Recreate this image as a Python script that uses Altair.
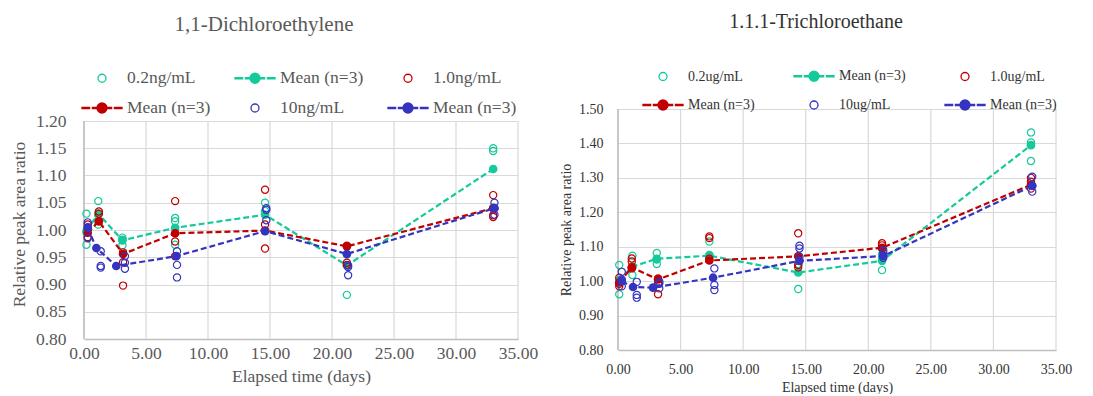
import altair as alt
import pandas as pd

# ---------------- 1,1-Dichloroethylene (left) ----------------
dce_days_02 = [0.2, 1.15, 3.1, 7.35, 14.6, 21.2, 33.0]
dce_r1_02 = [1.030, 1.053, 0.986, 1.022, 1.050, 0.970, 1.150]
dce_r2_02 = [0.995, 1.027, 0.982, 1.016, 1.035, 0.955, 1.145]
dce_r3_02 = [0.973, 1.010, 0.972, 0.973, 0.998, 0.881, 1.041]
dce_mean_days_02 = [0.2, 1.15, 3.1, 7.35, 14.6, 21.2, 33.0]
dce_mean_02 = [0.998, 1.030, 0.981, 1.004, 1.028, 0.935, 1.112]

dce_days_10 = [0.3, 1.2, 3.15, 7.35, 14.6, 21.2, 33.0]
dce_r1_10 = [1.010, 1.034, 0.959, 1.053, 1.074, 0.971, 1.064]
dce_r2_10 = [1.001, 1.030, 0.941, 0.979, 1.010, 0.940, 1.027]
dce_r3_10 = [0.987, 1.016, 0.898, 0.952, 0.966, 0.936, 1.024]
dce_mean_days_10 = [0.3, 1.2, 3.15, 7.35, 14.6, 21.2, 33.0]
dce_mean_10 = [0.995, 1.016, 0.956, 0.994, 0.999, 0.970, 1.040]

dce_days_100 = [0.3, 1.35, 3.3, 7.5, 14.7, 21.3, 33.1]
dce_r1_100 = [1.014, 0.961, 0.952, 0.961, 1.040, 0.935, 1.050]
dce_r2_100 = [1.005, 0.934, 0.940, 0.936, 1.037, 0.932, 1.040]
dce_r3_100 = [0.985, 0.931, 0.929, 0.913, 1.018, 0.917, 1.028]
dce_mean_days_100 = [0.3, 1.0, 2.6, 7.45, 14.6, 21.2, 33.1]
dce_mean_100 = [1.004, 0.967, 0.934, 0.952, 0.998, 0.956, 1.040]

# ---------------- 1.1.1-Trichloroethane (right) ----------------
tce_days_02 = [0.1, 1.15, 3.1, 7.3, 14.4, 21.1, 33.0]
tce_r1_02 = [1.047, 1.074, 1.082, 1.115, 1.050, 1.078, 1.432]
tce_r2_02 = [0.999, 1.040, 1.063, 1.076, 1.048, 1.068, 1.403]
tce_r3_02 = [0.962, 1.018, 1.050, 1.070, 0.977, 1.032, 1.349]
tce_mean_days_02 = [0.1, 1.15, 3.1, 7.3, 14.4, 21.1, 33.0]
tce_mean_02 = [1.003, 1.042, 1.065, 1.074, 1.025, 1.059, 1.395]

tce_days_10 = [0.1, 1.1, 3.2, 7.3, 14.4, 21.1, 33.0]
tce_r1_10 = [1.010, 1.066, 1.008, 1.130, 1.139, 1.110, 1.300]
tce_r2_10 = [0.992, 1.057, 0.993, 1.125, 1.047, 1.104, 1.289]
tce_r3_10 = [0.985, 1.037, 0.962, 1.065, 1.040, 1.095, 1.269]
tce_mean_days_10 = [0.1, 1.1, 3.2, 7.3, 14.4, 21.1, 33.0]
tce_mean_10 = [0.996, 1.040, 1.005, 1.060, 1.072, 1.097, 1.280]

tce_days_100 = [0.3, 1.5, 3.3, 7.7, 14.5, 21.2, 33.1]
tce_r1_100 = [1.027, 0.998, 0.998, 1.037, 1.103, 1.090, 1.303]
tce_r2_100 = [1.005, 0.960, 0.993, 0.989, 1.095, 1.081, 1.277]
tce_r3_100 = [0.985, 0.952, 0.979, 0.974, 1.071, 1.068, 1.260]
tce_mean_days_100 = [0.3, 1.2, 2.8, 7.6, 14.5, 21.2, 33.1]
tce_mean_100 = [1.000, 0.983, 0.981, 1.010, 1.059, 1.073, 1.277]

x_ticks = [0, 5, 10, 15, 20, 25, 30, 35]
dce_y_ticks = [0.80, 0.85, 0.90, 0.95, 1.00, 1.05, 1.10, 1.15, 1.20]
tce_y_ticks = [0.80, 0.90, 1.00, 1.10, 1.20, 1.30, 1.40, 1.50]

dce_labels = ["0.2ng/mL", "Mean (n=3)", "1.0ng/mL", "Mean (n=3)", "10ng/mL", "Mean (n=3)"]
tce_labels = ["0.2ug/mL", "Mean (n=3)", "1.0ug/mL", "Mean (n=3)", "10ug/mL", "Mean (n=3)"]

TEAL = "#14C99A"
RED = "#C00000"
BLUE = "#3434C0"
FONT = "Liberation Serif"
GRID = "#D9D9D9"
AXIS = "#BFBFBF"

CIRCLE_PATH = "M0.2,0A0.2,0.2,0,1,1,-0.2,0A0.2,0.2,0,1,1,0.2,0Z"
MEAN_PATH = ("M-1,-0.03H-0.62V0.03H-1Z M-0.48,-0.03H-0.16V0.03H-0.48Z "
             "M0.16,-0.03H0.48V0.03H0.16Z M0.62,-0.03H1V0.03H0.62Z "
             "M0.25,0A0.25,0.25,0,1,1,-0.25,0A0.25,0.25,0,1,1,0.25,0Z")


def reps_frame(days, r1, r2, r3):
    rows = []
    for d, a, b, c in zip(days, r1, r2, r3):
        for v in (a, b, c):
            rows.append({"day": d, "val": v})
    return pd.DataFrame(rows)


def mean_frame(days, vals):
    return pd.DataFrame({"day": days, "val": vals})


def panel(tag, title, series, labels, y_ticks, width, height, extra, fs, title_fs, text_color,
          title_dx, title_offset, legend_x, legend_y, col_pad, row_pad, ylab_pad, ytitle_pad,
          xlab_pad, xtitle_pad):
    ylo, yhi = y_ticks[0], y_ticks[-1]
    # extra empty band above the top gridline (keeps both panels' plot tops where they are)
    ytop = yhi + extra * (yhi - ylo) / height
    xs = alt.Scale(domain=[0, 35], nice=False)
    ys = alt.Scale(domain=[ylo, ytop], nice=False, zero=False)
    xaxis = alt.Axis(values=x_ticks, format=".2f", title="Elapsed time (days)",
                     grid=False, labelFontSize=fs, titleFontSize=fs,
                     labelPadding=xlab_pad, titlePadding=xtitle_pad,
                     labelColor=text_color, titleColor=text_color)
    yaxis = alt.Axis(values=y_ticks, format=".2f", title="Relative peak area ratio",
                     domain=False, labelFontSize=fs, titleFontSize=fs,
                     labelPadding=ylab_pad, titlePadding=ytitle_pad,
                     labelColor=text_color, titleColor=text_color)
    x = alt.X("day:Q", scale=xs, axis=xaxis)
    y = alt.Y("val:Q", scale=ys, axis=yaxis)
    ylo_enc = alt.Y("lo:Q", scale=ys, axis=yaxis)
    layers = []
    vgrid = pd.DataFrame({"day": x_ticks, "lo": [ylo] * len(x_ticks), "hi": [yhi] * len(x_ticks)})
    layers.append(alt.Chart(vgrid).mark_rule(color=GRID, strokeWidth=1.2).encode(
        x=x, y=ylo_enc, y2="hi:Q"))
    ydom = pd.DataFrame({"day": [x_ticks[0]], "lo": [ylo], "hi": [yhi]})
    layers.append(alt.Chart(ydom).mark_rule(color=AXIS, strokeWidth=1.6).encode(
        x=x, y=ylo_enc, y2="hi:Q"))
    for reps, means, color in series:
        layers.append(alt.Chart(reps).mark_point(shape="circle", filled=False, color=color,
                                                 size=52, strokeWidth=1.2, opacity=1)
                      .encode(x=x, y=y))
        layers.append(alt.Chart(means).mark_line(color=color, strokeDash=[6, 3], strokeWidth=2.2)
                      .encode(x=x, y=y))
        layers.append(alt.Chart(means).mark_point(shape="circle", filled=True, color=color,
                                                  size=75, opacity=1)
                      .encode(x=x, y=y))

    keys = [f"{lab}#{tag}{i}" for i, lab in enumerate(labels)]
    colors = [TEAL, TEAL, RED, RED, BLUE, BLUE]
    fills = ["transparent", TEAL, "transparent", RED, "transparent", BLUE]
    shapes = [CIRCLE_PATH, MEAN_PATH] * 3
    leg = alt.Legend(title=None, orient="none", legendX=legend_x, legendY=legend_y + extra,
                     direction="horizontal", columns=3, columnPadding=col_pad,
                     rowPadding=row_pad,
                     symbolSize=1600, symbolStrokeWidth=1.3, symbolOpacity=1,
                     labelFont=FONT, labelFontSize=fs, labelColor=text_color,
                     labelOffset=4, labelLimit=300,
                     labelExpr="split(datum.label, '#')[0]")
    legend_df = pd.DataFrame({"key": keys})
    layers.append(alt.Chart(legend_df).mark_point(opacity=0).encode(
        shape=alt.Shape("key:N", scale=alt.Scale(domain=keys, range=shapes), legend=leg),
        fill=alt.Fill("key:N", scale=alt.Scale(domain=keys, range=fills), legend=leg),
        stroke=alt.Stroke("key:N", scale=alt.Scale(domain=keys, range=colors), legend=leg),
    ))
    return alt.layer(*layers).properties(
        width=width, height=height + extra,
        title=alt.TitleParams(title, font=FONT, fontSize=title_fs, fontWeight="normal",
                              color=text_color, anchor="middle", dx=title_dx,
                              offset=title_offset),
    )


left = panel(
    "L",
    "1,1-Dichloroethylene",
    [(reps_frame(dce_days_02, dce_r1_02, dce_r2_02, dce_r3_02), mean_frame(dce_mean_days_02, dce_mean_02), TEAL),
     (reps_frame(dce_days_10, dce_r1_10, dce_r2_10, dce_r3_10), mean_frame(dce_mean_days_10, dce_mean_10), RED),
     (reps_frame(dce_days_100, dce_r1_100, dce_r2_100, dce_r3_100), mean_frame(dce_mean_days_100, dce_mean_100), BLUE)],
    dce_labels, dce_y_ticks, 434, 218, 12, 17.5, 21, "#595959",
    -37, 22, -3, -64, 21, -10, 18, 7, 5, 6)

right = panel(
    "R",
    "1.1.1-Trichloroethane",
    [(reps_frame(tce_days_02, tce_r1_02, tce_r2_02, tce_r3_02), mean_frame(tce_mean_days_02, tce_mean_02), TEAL),
     (reps_frame(tce_days_10, tce_r1_10, tce_r2_10, tce_r3_10), mean_frame(tce_mean_days_10, tce_mean_10), RED),
     (reps_frame(tce_days_100, tce_r1_100, tce_r2_100, tce_r3_100), mean_frame(tce_mean_days_100, tce_mean_100), BLUE)],
    tce_labels, tce_y_ticks, 438, 241, 0, 14, 20, "#333333",
    -21, 23, 24, -54, 36, -7, 15, 5, 12, 4)

chart = alt.hconcat(left, right, spacing=21).resolve_scale(
    shape="independent", fill="independent", stroke="independent"
).resolve_legend(
    shape="independent", fill="independent", stroke="independent"
).properties(
    padding={"left": 2, "top": 4, "right": 5, "bottom": 0}
).configure_view(stroke=None).configure_axis(
    labelFont=FONT, titleFont=FONT, titleFontWeight="normal", tickSize=0,
    domainColor=AXIS, domainWidth=1.6, gridColor=GRID, gridWidth=1.2,
    labelOverlap=False, labelFlush=False,
).configure_title(font=FONT)

chart.save("out.html", embed_options={"renderer": "svg", "actions": False})
